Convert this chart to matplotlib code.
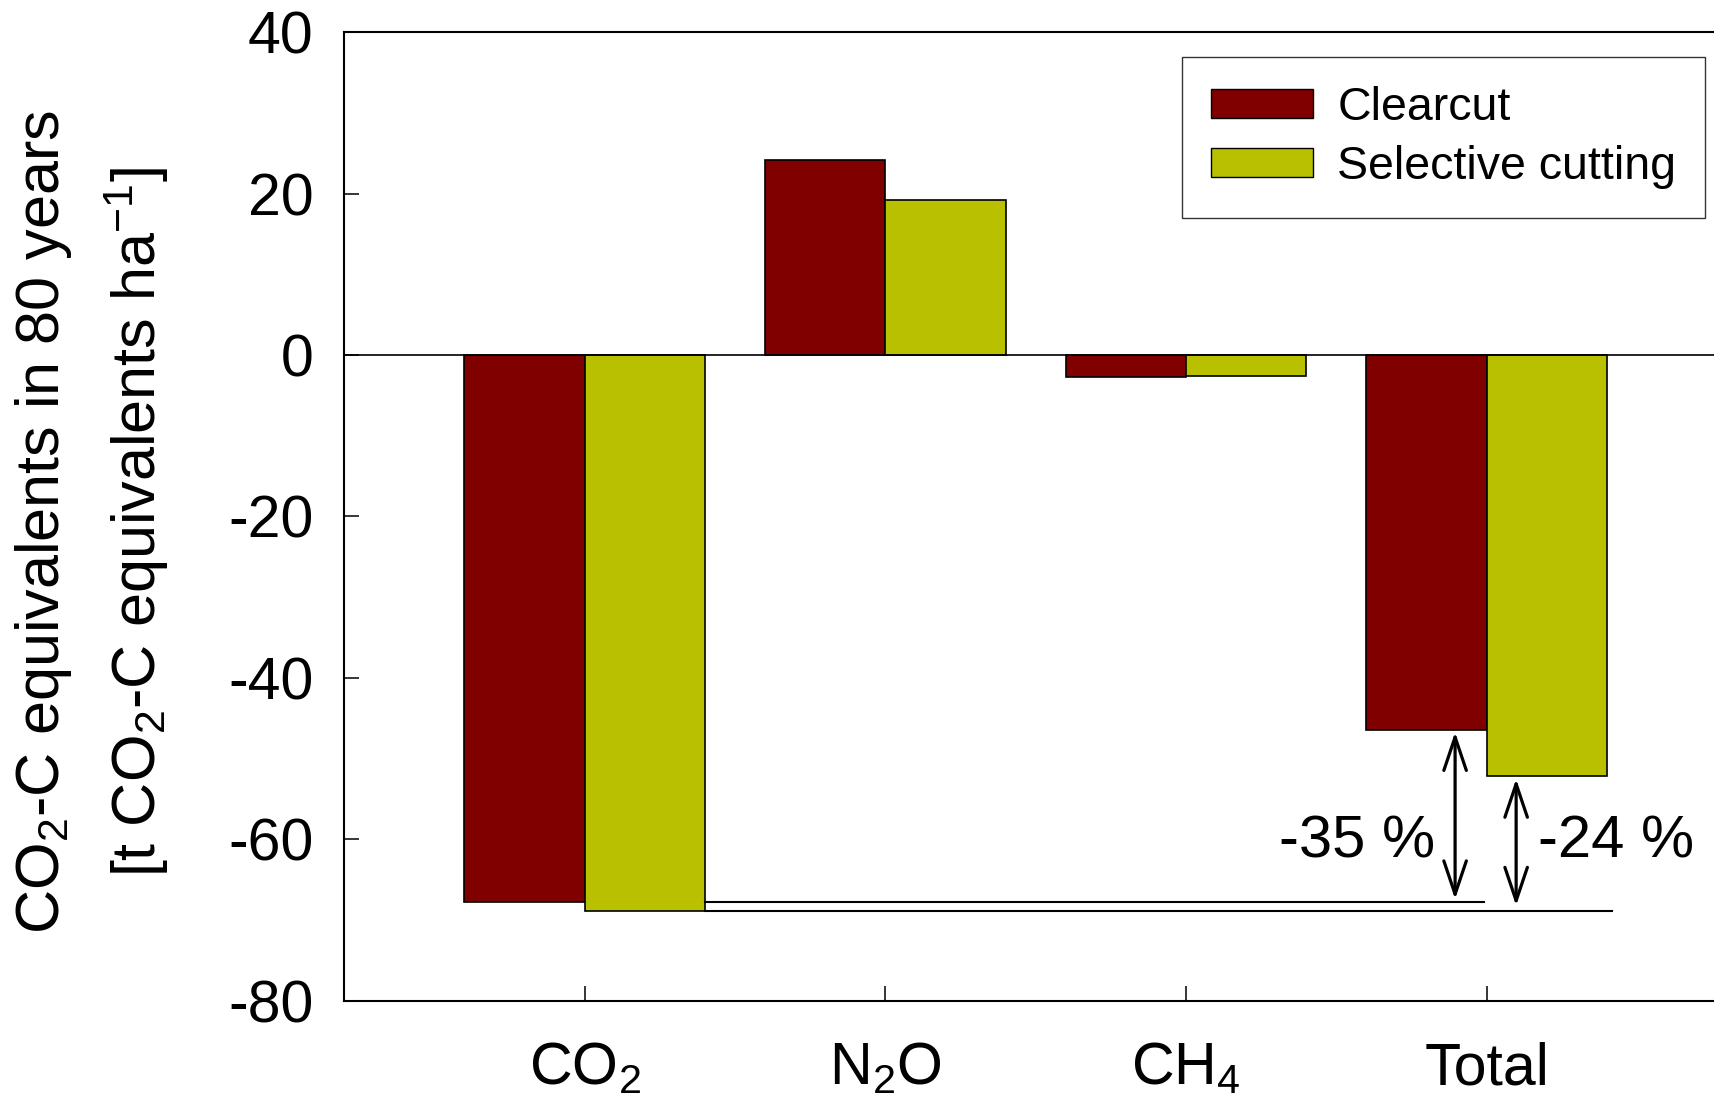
import matplotlib
matplotlib.use("Agg")
import matplotlib.pyplot as plt
from matplotlib.patches import ArrowStyle
import numpy as np

plt.rcParams['font.family'] = ['Liberation Sans', 'DejaVu Sans']
plt.rcParams['mathtext.fontset'] = 'custom'
plt.rcParams['mathtext.rm'] = 'Liberation Sans'
plt.rcParams['mathtext.it'] = 'Liberation Sans:italic'
plt.rcParams['mathtext.bf'] = 'Liberation Sans:bold'

categories = [r'CO$_2$', r'N$_2$O', r'CH$_4$', 'Total']
clearcut = [-67.8, 24.1, -2.7, -46.4]
selective = [-68.8, 19.2, -2.6, -52.2]
series_names = ['Clearcut', 'Selective cutting']
pct_labels = ['-35 %', '-24 %']
yticks = [-80, -60, -40, -20, 0, 20, 40]

c_clear = '#800000'
c_sel = '#B8C000'

fig = plt.figure(figsize=(17.14, 11.08), dpi=100)
ax = fig.add_axes([0.2007, 0.0966, 0.7993, 0.8745])

x = np.arange(len(categories))
w = 0.4
ax.bar(x - w / 2, clearcut, w, color=c_clear, edgecolor='black', linewidth=1.2,
       label=series_names[0], zorder=2)
ax.bar(x + w / 2, selective, w, color=c_sel, edgecolor='black', linewidth=1.2,
       label=series_names[1], zorder=2)

ax.axhline(0, color='black', lw=1.2, zorder=3)

ax.set_xlim(-0.8, 3.756)
ax.set_ylim(-80, 40)
ax.set_yticks(yticks)
ax.set_yticklabels([str(t) for t in yticks])
ax.set_xticks(x)
ax.set_xticklabels(categories)

ax.tick_params(axis='both', direction='in', length=11, width=1.1, labelsize=42.5)
ax.tick_params(axis='y', pad=22)
ax.tick_params(axis='x', pad=29)
ax.spines['right'].set_visible(False)
for s in ['left', 'top', 'bottom']:
    ax.spines[s].set_linewidth(1.5)

# reference lines at CO2 levels
ax.plot([x[0] + w, 2.99], [clearcut[0], clearcut[0]], color='black', lw=1.5, zorder=3)
ax.plot([x[0] + w, 3.417], [selective[0], selective[0]], color='black', lw=1.5, zorder=3)

astyle = ArrowStyle('<->', head_length=0.8, head_width=0.27)
ax.annotate('', xy=(2.895, clearcut[3] - 0.3), xytext=(2.895, clearcut[0] + 0.4),
            arrowprops=dict(arrowstyle=astyle, mutation_scale=30, lw=2.3, color='black',
                            shrinkA=0, shrinkB=0), zorder=4)
ax.annotate('', xy=(3.098, selective[3] - 0.3), xytext=(3.098, selective[0] + 0.6),
            arrowprops=dict(arrowstyle=astyle, mutation_scale=30, lw=2.3, color='black',
                            shrinkA=0, shrinkB=0), zorder=4)

ax.text(2.83, -60.3, pct_labels[0], ha='right', va='center', fontsize=43)
ax.text(3.17, -60.3, pct_labels[1], ha='left', va='center', fontsize=43)

leg = ax.legend(loc='upper right', bbox_to_anchor=(1705 / 1714, 1 - 57 / 1108),
                bbox_transform=fig.transFigure, fontsize=33.5, frameon=True, fancybox=False,
                edgecolor='black', handlelength=2.2, handleheight=0.58, handletextpad=0.52,
                labelspacing=0.32, borderpad=0.62, borderaxespad=0)
leg.get_frame().set_linewidth(1.0)
for p in leg.get_patches():
    p.set_linewidth(1.0)

fig.text(44 / 1714, 0.529, r'CO$_2$-C equivalents in 80 years', rotation=90,
         ha='center', va='center', fontsize=44)
fig.text(137 / 1714, 0.529, r'[t CO$_2$-C equivalents ha$^{-1}$]', rotation=90,
         ha='center', va='center', fontsize=44)

fig.savefig('out.png', dpi=100)
